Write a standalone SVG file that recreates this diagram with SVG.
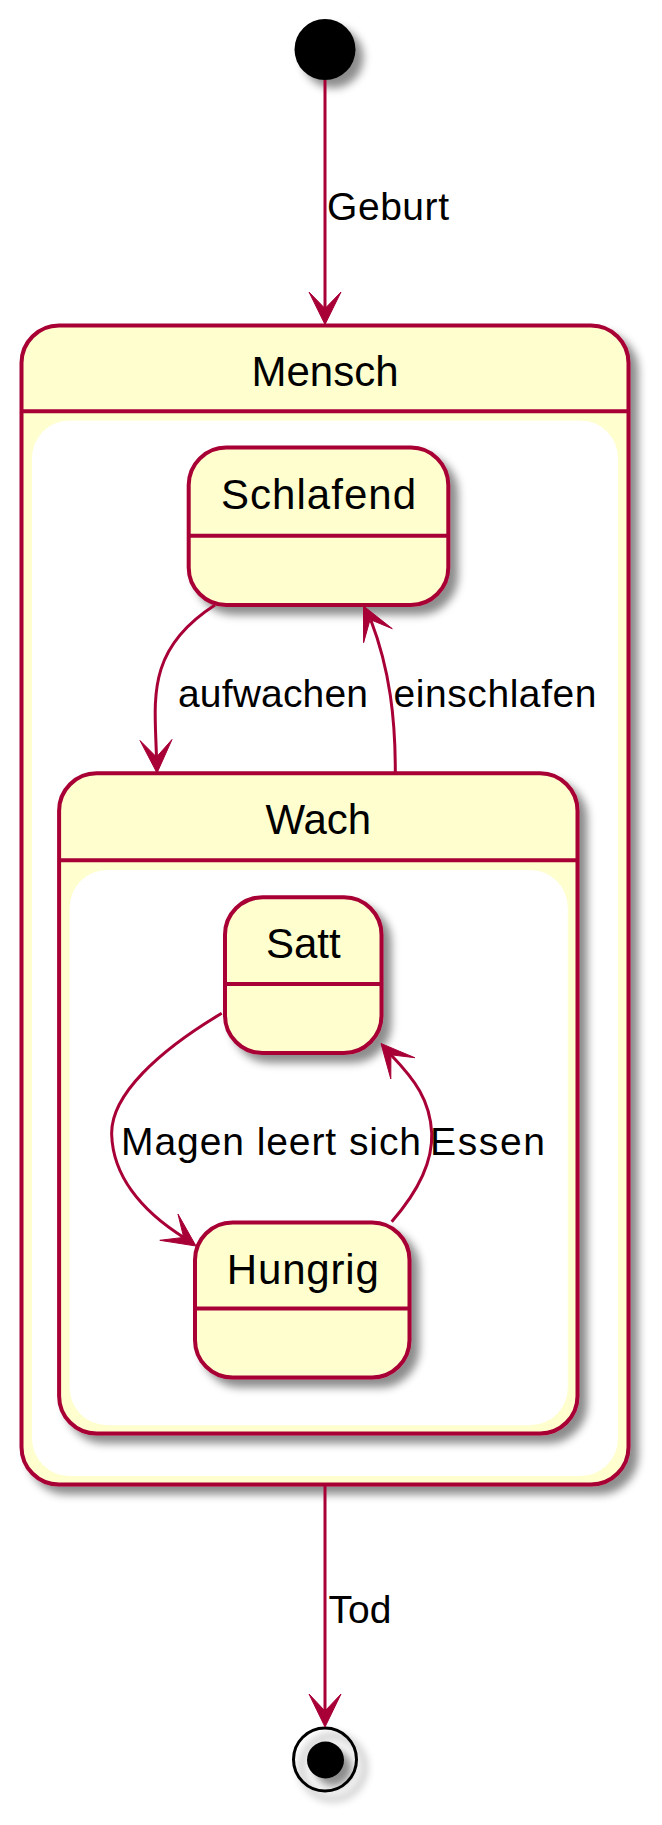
<svg xmlns="http://www.w3.org/2000/svg" width="662" height="1825" viewBox="0 0 662 1825">
<defs>
<filter id="sh" x="-20%" y="-20%" width="150%" height="150%">
<feGaussianBlur in="SourceAlpha" stdDeviation="4" result="b"/>
<feColorMatrix in="b" type="matrix" values="0 0 0 0 0  0 0 0 0 0  0 0 0 0 0  0 0 0 .45 0" result="c"/>
<feOffset in="c" dx="8" dy="8" result="o"/>
<feBlend in="SourceGraphic" in2="o" mode="normal"/>
</filter>
<style>
.st{fill:#FEFECE;stroke:#A80036;stroke-width:4}
.dv{stroke:#A80036;stroke-width:4}
.in{fill:#FFFFFF;stroke:none}
.nm{font-family:"Liberation Sans",Arial,sans-serif;font-size:42px;fill:#000000;text-anchor:middle}
.lb{font-family:"Liberation Sans",Arial,sans-serif;font-size:39px;fill:#000000}
.ln{fill:none;stroke:#A80036;stroke-width:3}
.ah{fill:#A80036;stroke:#A80036;stroke-width:1;stroke-linejoin:miter}
</style>
</defs>
<rect width="662" height="1825" fill="#FFFFFF"/>

<g id="start">
<circle cx="325" cy="49.5" r="30.5" fill="#000000" filter="url(#sh)"/>
</g>

<g id="Mensch">
<rect class="st" x="21.5" y="325.5" width="607" height="1159" rx="37.5" ry="37.5" filter="url(#sh)"/>
<line class="dv" x1="21.5" y1="411.3" x2="628.5" y2="411.3"/>
<rect class="in" x="32" y="420.5" width="586" height="1055.5" rx="37.5" ry="37.5"/>
<text class="nm" x="325" y="385.5">Mensch</text>
</g>

<g id="Schlafend">
<rect class="st" x="188.7" y="447.6" width="259.6" height="157.4" rx="37.5" ry="37.5" filter="url(#sh)"/>
<line class="dv" x1="188.7" y1="535.8" x2="448.3" y2="535.8"/>
<text class="nm" x="318.5" y="509.3" textLength="195" lengthAdjust="spacing">Schlafend</text>
</g>

<g id="Wach">
<rect class="st" x="59.1" y="773.3" width="518.4" height="660.2" rx="37.5" ry="37.5" filter="url(#sh)"/>
<line class="dv" x1="59.1" y1="860.2" x2="577.5" y2="860.2"/>
<rect class="in" x="69.6" y="870" width="498.2" height="555.2" rx="37.5" ry="37.5"/>
<text class="nm" x="318.3" y="834">Wach</text>
</g>

<g id="Satt">
<rect class="st" x="225" y="897.3" width="156.5" height="155.7" rx="37.5" ry="37.5" filter="url(#sh)"/>
<line class="dv" x1="225" y1="984" x2="381.5" y2="984"/>
<text class="nm" x="303.3" y="957.5">Satt</text>
</g>

<g id="Hungrig">
<rect class="st" x="195" y="1222.5" width="214.5" height="155" rx="37.5" ry="37.5" filter="url(#sh)"/>
<line class="dv" x1="195" y1="1308.4" x2="409.5" y2="1308.4"/>
<text class="nm" x="302.8" y="1283.7" textLength="152" lengthAdjust="spacing">Hungrig</text>
</g>

<g id="end">
<g filter="url(#sh)">
<circle cx="325" cy="1759.5" r="31.5" fill="none" stroke="#000000" stroke-width="3"/>
<circle cx="325.5" cy="1760" r="18.5" fill="#000000"/>
</g>
</g>

<g id="connectors">
<path class="ln" d="M325,80 L325,310"/>
<polygon class="ah" points="325,324.5 341,292 325,308.5 309,292"/>
<text class="lb" x="327" y="219.5" textLength="122" lengthAdjust="spacing">Geburt</text>

<path class="ln" d="M215,605 C145,650 155,700 156.5,758"/>
<polygon class="ah" points="157,773 172,739.5 156.5,757 140,740.5"/>
<text class="lb" x="178" y="706.7" textLength="190" lengthAdjust="spacing">aufwachen</text>

<path class="ln" d="M395.3,773 C395.5,720 390,670 370.8,620"/>
<polygon class="ah" points="363.5,606 392.3,628.7 370.1,619.5 363.6,642.7"/>
<text class="lb" x="393.5" y="706.7" textLength="203" lengthAdjust="spacing">einschlafen</text>

<path class="ln" d="M221.7,1013.3 C160,1050 110,1095 111.7,1135 C113,1175 140,1210 183.7,1237.4"/>
<polygon class="ah" points="196,1246 178,1214.1 183.7,1237.4 159.8,1240.3"/>
<text class="lb" x="121" y="1154.5" textLength="300" lengthAdjust="spacing">Magen leert sich</text>

<path class="ln" d="M391.7,1221.7 C415,1195 433,1165 431.7,1133 C430,1100 415,1080 390.9,1054.8"/>
<polygon class="ah" points="381,1043.5 414.8,1057.7 390.9,1054.8 390.8,1078.9"/>
<text class="lb" x="430" y="1154.5" textLength="115" lengthAdjust="spacing">Essen</text>

<path class="ln" d="M325,1486 L325,1712"/>
<polygon class="ah" points="325,1727 341,1694 325,1711 309,1694"/>
<text class="lb" x="328.5" y="1622.5">Tod</text>
</g>
</svg>
